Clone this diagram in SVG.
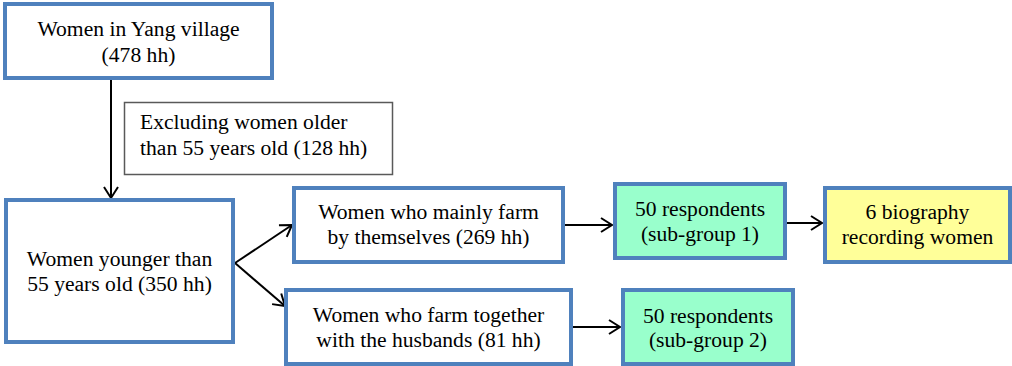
<svg xmlns="http://www.w3.org/2000/svg" width="1012" height="366" viewBox="0 0 1012 366">
  <style>
    .box { fill: #ffffff; stroke: #4f81bd; stroke-width: 4; }
    .green { fill: #99ffcc; }
    .yellow { fill: #ffff99; }
    .note { fill: #ffffff; stroke: #595959; stroke-width: 1.5; }
    .t { font-family: "Liberation Serif", "Times New Roman", serif; font-size: 21.6px; fill: #000000; }
    .c { text-anchor: middle; }
    .conn line { stroke: #000000; stroke-width: 2; fill: none; }
  </style>
  <defs>
    <marker id="arr" markerUnits="userSpaceOnUse" markerWidth="16" markerHeight="18" refX="12" refY="8" orient="auto">
      <path d="M1,1 L12,8 L1,15" fill="none" stroke="#000000" stroke-width="2"/>
    </marker>
  </defs>

  <g id="conns" class="conn">
    <line x1="111" y1="80" x2="111" y2="198" marker-end="url(#arr)"/>
    <line x1="235" y1="263" x2="292" y2="225" marker-end="url(#arr)"/>
    <line x1="235" y1="263" x2="285" y2="306" marker-end="url(#arr)"/>
    <line x1="565" y1="225" x2="612" y2="225" marker-end="url(#arr)"/>
    <line x1="787" y1="223" x2="822" y2="223" marker-end="url(#arr)"/>
    <line x1="573" y1="327" x2="620" y2="327" marker-end="url(#arr)"/>
  </g>

  <g id="n1">
    <rect class="box" x="5" y="4" width="267" height="74"/>
    <text class="t c" x="138.5" y="36">Women in Yang village</text>
    <text class="t c" x="138.5" y="62">(478 hh)</text>
  </g>

  <g id="note">
    <rect class="note" x="124.5" y="102.5" width="268" height="72"/>
    <text class="t" x="140" y="129">Excluding women older</text>
    <text class="t" x="140" y="155">than 55 years old (128 hh)</text>
  </g>

  <g id="n2">
    <rect class="box" x="6" y="200" width="227" height="142"/>
    <text class="t c" x="119.5" y="266">Women younger than</text>
    <text class="t c" x="119.5" y="291">55 years old (350 hh)</text>
  </g>

  <g id="n3">
    <rect class="box" x="294" y="188" width="269" height="74"/>
    <text class="t c" x="428.5" y="219">Women who mainly farm</text>
    <text class="t c" x="428.5" y="244">by themselves (269 hh)</text>
  </g>

  <g id="n4">
    <rect class="box" x="286" y="290" width="285" height="74"/>
    <text class="t c" x="428.5" y="322">Women who farm together</text>
    <text class="t c" x="428.5" y="347">with the husbands (81 hh)</text>
  </g>

  <g id="n5">
    <rect class="box green" x="615" y="184" width="170" height="74"/>
    <text class="t c" x="700" y="216">50 respondents</text>
    <text class="t c" x="700" y="241">(sub-group 1)</text>
  </g>

  <g id="n6">
    <rect class="box yellow" x="825" y="188" width="185" height="74"/>
    <text class="t c" x="917.5" y="219">6 biography</text>
    <text class="t c" x="917.5" y="244">recording women</text>
  </g>

  <g id="n7">
    <rect class="box green" x="623" y="290" width="170" height="74"/>
    <text class="t c" x="708" y="323">50 respondents</text>
    <text class="t c" x="708" y="347">(sub-group 2)</text>
  </g>
</svg>
